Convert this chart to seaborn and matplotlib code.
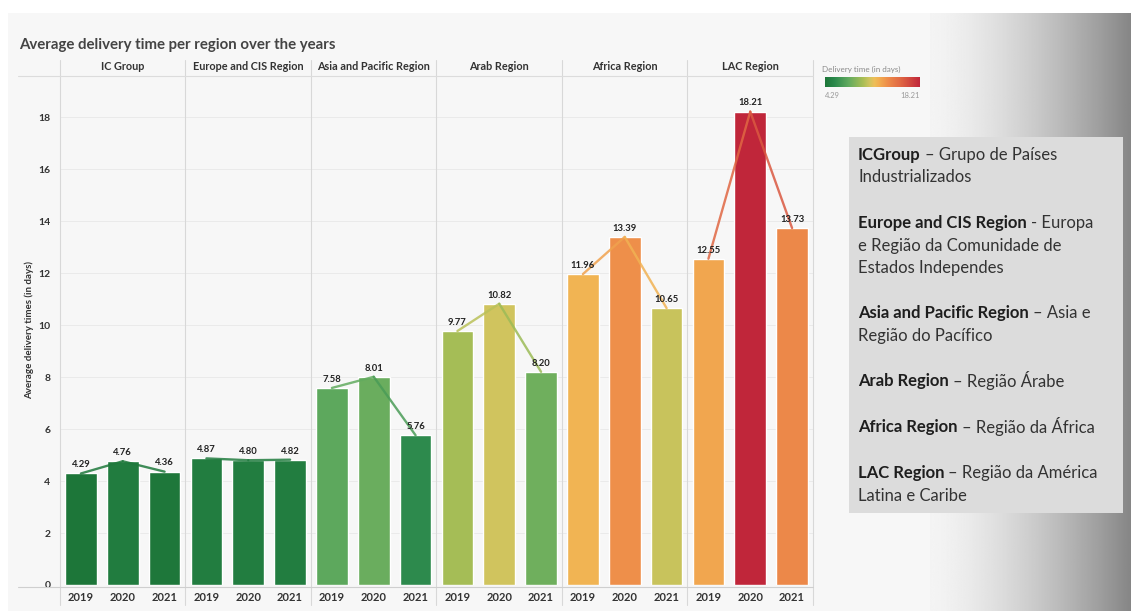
import numpy as np
import pandas as pd
import matplotlib
matplotlib.use('Agg')
import matplotlib.pyplot as plt
from matplotlib.colors import LinearSegmentedColormap, Normalize
from matplotlib.patches import Rectangle
import seaborn as sns

# chart data
REGIONS = ['IC Group', 'Europe and CIS Region', 'Asia and Pacific Region',
           'Arab Region', 'Africa Region', 'LAC Region']
YEARS = ['2019', '2020', '2021']
DAYS = [
    [4.29, 4.76, 4.36],
    [4.87, 4.80, 4.82],
    [7.58, 8.01, 5.76],
    [9.77, 10.82, 8.20],
    [11.96, 13.39, 10.65],
    [12.55, 18.21, 13.73],
]
Y_TICKS = [0, 2, 4, 6, 8, 10, 12, 14, 16, 18]

# side note (bold part, regular part) per line
NOTES = [
    ('ICGroup', '– Grupo de Países'),
    ('', 'Industrializados'),
    ('Europe and CIS Region', '- Europa'),
    ('', 'e Região da Comunidade de'),
    ('', 'Estados Independes'),
    ('Asia and Pacific Region', '– Asia e'),
    ('', 'Região do Pacífico'),
    ('Arab Region', '– Região Árabe'),
    ('Africa Region', '– Região da África'),
    ('LAC Region', '– Região da América'),
    ('', 'Latina e Caribe'),
]
NOTE_Y = [155, 177, 223, 246, 268, 313, 336, 381, 427, 473, 496]

W, H = 1131, 611
BG = '#f7f7f7'
TEXT_DARK = '#333333'

CMAP = LinearSegmentedColormap.from_list('delivery', [
    (0.00, '#1d7639'),
    (0.10, '#2b894c'),
    (0.25, '#62ab5f'),
    (0.40, '#a9be55'),
    (0.47, '#d0c45e'),
    (0.52, '#eebf58'),
    (0.57, '#f2ae51'),
    (0.66, '#ee8d4a'),
    (0.80, '#e06643'),
    (1.00, '#c0263a'),
])


def fx(x):
    return x / W


def fy(y):
    return 1 - y / H


def build_frame():
    rows = []
    for region, vals in zip(REGIONS, DAYS):
        for year, v in zip(YEARS, vals):
            rows.append({'region': region, 'year': year, 'days': v,
                         'slot': region + '|' + year})
    return pd.DataFrame(rows)


def main():
    sns.set_theme(style='white')
    plt.rcParams['font.family'] = ['Lato', 'DejaVu Sans']

    df = build_frame()
    norm = Normalize(vmin=df['days'].min(), vmax=df['days'].max())
    colors = [CMAP(norm(v)) for v in df['days']]

    fig = plt.figure(figsize=(W / 100, H / 100), dpi=100, facecolor='white')

    # backgrounds
    fig.patches.append(Rectangle((fx(8), 0), fx(930 - 8), fy(13), transform=fig.transFigure,
                                 facecolor=BG, edgecolor='none', zorder=-10))
    grad_ax = fig.add_axes([fx(930), 0, fx(W - 930), fy(13)], zorder=-5)
    t = np.linspace(0, 1, 256)
    shade = 0.955 - 0.43 * t ** 1.5
    grad_ax.imshow(np.tile(shade, (4, 1)), cmap='gray', vmin=0, vmax=1, aspect='auto')
    grad_ax.axis('off')

    # main axes
    ax = fig.add_axes([fx(60), fy(585), fx(813 - 60), (585 - 76) / H])
    ax.set_facecolor(BG)
    sns.barplot(data=df, x='slot', y='days', hue='slot', palette=colors, legend=False,
                width=0.76, saturation=1, ax=ax, zorder=2)
    ax.set_xlim(-0.5, len(df) - 0.5)
    ax.set_ylim(0, 19.58)
    for s in ax.spines.values():
        s.set_visible(False)

    for yv in Y_TICKS[1:]:
        ax.axhline(yv, color='#e8e8e8', lw=0.6, zorder=0)

    xt = ax.get_xaxis_transform()
    # facet separators
    for k in range(len(REGIONS) + 1):
        ax.plot([k * 3 - 0.5] * 2, [-0.04, 1.031], transform=xt, color='#d8d8d8',
                lw=0.8, clip_on=False, zorder=1)
    # header and floor lines
    ax.plot([-0.0558, 1.0], [1.0, 1.0], transform=ax.transAxes, color='#dcdcdc',
            lw=0.8, clip_on=False)
    ax.plot([-0.0558, 1.0], [-0.004, -0.004], transform=ax.transAxes, color='#cfcfcf',
            lw=0.8, clip_on=False)

    # facet headers
    for k, region in enumerate(REGIONS):
        ax.text(k * 3 + 1, 1.018, region, transform=xt, ha='center', va='center',
                fontsize=7.8, fontweight='bold', color=TEXT_DARK)

    # connecting line and value labels
    for k, vals in enumerate(DAYS):
        for j in range(len(vals) - 1):
            c = CMAP(norm((vals[j] + vals[j + 1]) / 2))
            ax.plot([k * 3 + j, k * 3 + j + 1], [vals[j], vals[j + 1]], color=c,
                    lw=1.7, alpha=0.85, zorder=3, solid_capstyle='round')
        for j, v in enumerate(vals):
            ax.annotate(f'{v:.2f}', xy=(k * 3 + j, v), xytext=(0, 3),
                        textcoords='offset points', ha='center', va='bottom',
                        fontsize=6.8, fontweight='bold', color='#222222', zorder=4)

    ax.set_xticks(range(len(df)))
    ax.set_xticklabels(YEARS * len(REGIONS))
    ax.set_yticks(Y_TICKS)
    ax.set_yticklabels([str(v) for v in Y_TICKS])
    ax.tick_params(axis='x', length=0, pad=5, labelsize=8, labelcolor=TEXT_DARK)
    ax.tick_params(axis='y', length=0, pad=7, labelsize=7.5, labelcolor=TEXT_DARK)
    for lab in ax.get_xticklabels() + ax.get_yticklabels():
        lab.set_fontweight('bold')
    ax.set_xlabel('')
    ax.set_ylabel('')

    fig.text(fx(29), fy(330), 'Average delivery times (in days)', rotation=90,
             ha='center', va='center', fontsize=7, fontweight='bold', color=TEXT_DARK)
    fig.text(fx(19), fy(45), 'Average delivery time per region over the years',
             ha='left', va='center', fontsize=10.8, fontweight='bold', color='#444444')

    # colour legend
    fig.text(fx(822), fy(69), 'Delivery time (in days)', ha='left', va='center',
             fontsize=5.8, color='#8a8a8a')
    leg_ax = fig.add_axes([fx(825), fy(87), fx(95), 10 / H])
    leg_ax.imshow(np.linspace(0, 1, 256)[None, :], cmap=CMAP, aspect='auto')
    leg_ax.axis('off')
    fig.text(fx(825), fy(95), f'{min(min(d) for d in DAYS):.2f}', ha='left', va='center',
             fontsize=5.5, color='#9a9a9a')
    fig.text(fx(920), fy(95), f'{max(max(d) for d in DAYS):.2f}', ha='right', va='center',
             fontsize=5.5, color='#9a9a9a')

    # side note box
    fig.patches.append(Rectangle((fx(849), fy(513)), fx(1123 - 849), (513 - 137) / H,
                                 transform=fig.transFigure, facecolor='#dcdcdc',
                                 edgecolor='none', zorder=1))
    renderer = fig.canvas.get_renderer()
    for (bold, regular), yy in zip(NOTES, NOTE_Y):
        x = 858
        if bold:
            tb = fig.text(fx(x), fy(yy), bold, ha='left', va='center', fontsize=12,
                          fontweight='bold', color='#1e1e1e', zorder=2)
            x += tb.get_window_extent(renderer).width + 4
        fig.text(fx(x), fy(yy), regular, ha='left', va='center', fontsize=12,
                 color='#333333', zorder=2)

    fig.savefig('out.png', dpi=100, facecolor='white')


if __name__ == '__main__':
    main()
